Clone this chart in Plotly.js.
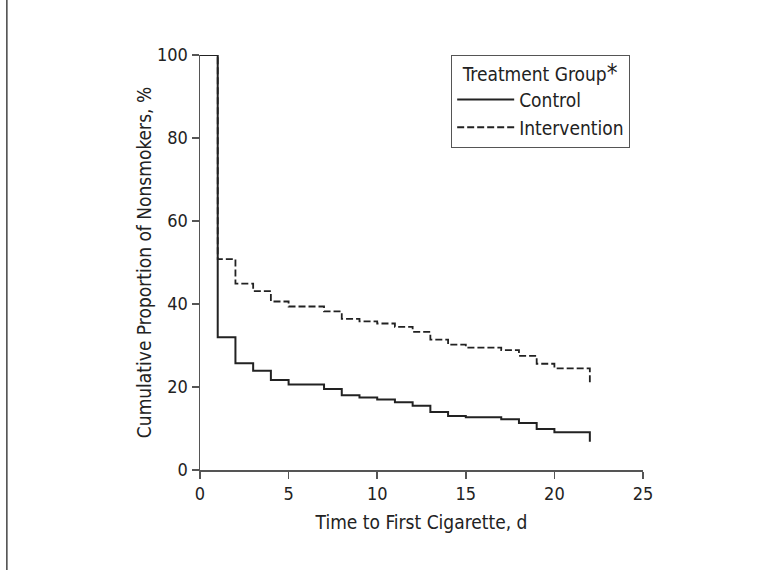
<!DOCTYPE html>
<html><head><meta charset="utf-8">
<script src="https://cdn.plot.ly/plotly-3.0.1.min.js"></script>
<style>html,body{margin:0;padding:0;background:#fff;}#chart{width:762px;height:570px;}</style>
</head><body><div id="chart"></div>
<script>
const controlDays = [0, 1, 2, 3, 4, 5, 7, 8, 9, 10, 11, 12, 13, 14, 15, 17, 18, 19, 20, 22];
const controlPct = [100, 32, 25.7, 23.9, 21.7, 20.6, 19.5, 18.0, 17.5, 17.0, 16.3, 15.5, 14.0, 13.0, 12.7, 12.2, 11.3, 9.9, 9.1, 6.8];
const interventionDays = [0, 1, 2, 3, 4, 5, 7, 8, 9, 10, 11, 12, 13, 14, 15, 17, 18, 19, 20, 22];
const interventionPct = [100, 50.8, 44.9, 43.1, 40.6, 39.4, 38.2, 36.4, 35.8, 35.3, 34.5, 33.3, 31.4, 30.2, 29.5, 28.9, 27.5, 25.6, 24.5, 20.5];
const xTicks = [0, 5, 10, 15, 20, 25];
const yTicks = [0, 20, 40, 60, 80, 100];

const FONT = '"DejaVu Sans Condensed", "Liberation Sans Narrow", sans-serif';
const INK = '#222';

const traces = [
  {x: controlDays, y: controlPct, name: 'Control', mode: 'lines',
   line: {shape: 'hv', color: INK, width: 2}},
  {x: interventionDays, y: interventionPct, name: 'Intervention', mode: 'lines',
   line: {shape: 'hv', color: INK, width: 1.8, dash: '7px,3px'}}
];

const layout = {
  width: 762, height: 570,
  margin: {l: 200, r: 119, t: 55, b: 100},
  paper_bgcolor: '#fff', plot_bgcolor: '#fff',
  font: {family: FONT, color: INK, size: 18},
  showlegend: true,
  legend: {
    x: 0.567, y: 1.0, xanchor: 'left', yanchor: 'top',
    traceorder: 'normal',
    bordercolor: '#555', borderwidth: 1, bgcolor: '#fff',
    itemwidth: 57,
    font: {family: FONT, size: 19, color: INK},
    title: {text: 'Treatment Group<span style="font-size:24px">*</span>', side: 'top center',
            font: {family: FONT, size: 19, color: INK}},
    tracegroupgap: 0
  },
  xaxis: {
    range: [0, 25], tickvals: xTicks, ticktext: xTicks.map(String),
    showgrid: false, zeroline: false, showline: true, linecolor: '#555', linewidth: 1.5,
    ticks: 'outside', ticklen: 7, tickcolor: '#555', tickwidth: 1.5,
    tickfont: {family: FONT, size: 18, color: INK},
    title: {text: 'Time to First Cigarette, d', font: {family: FONT, size: 19, color: INK}, standoff: 12}
  },
  yaxis: {
    range: [0, 100], tickvals: yTicks, ticktext: yTicks.map(String),
    showgrid: false, zeroline: false, showline: true, linecolor: '#555', linewidth: 1.5,
    ticks: 'outside', ticklen: 7, tickcolor: '#555', tickwidth: 1.5,
    tickfont: {family: FONT, size: 18, color: INK},
    title: {text: 'Cumulative Proportion of Nonsmokers, %', font: {family: FONT, size: 19, color: INK}, standoff: 0}
  },
  shapes: [
    {type: 'line', xref: 'paper', yref: 'paper', x0: -0.436, x1: 1.4, y0: 1.1566, y1: 1.1566,
     line: {color: '#444', width: 1.5}},
    {type: 'line', xref: 'paper', yref: 'paper', x0: -0.436, x1: -0.436, y0: 1.1566, y1: -0.3,
     line: {color: '#444', width: 1.5}}
  ]
};

Plotly.newPlot('chart', traces, layout, {displayModeBar: false, staticPlot: true});
</script></body></html>
